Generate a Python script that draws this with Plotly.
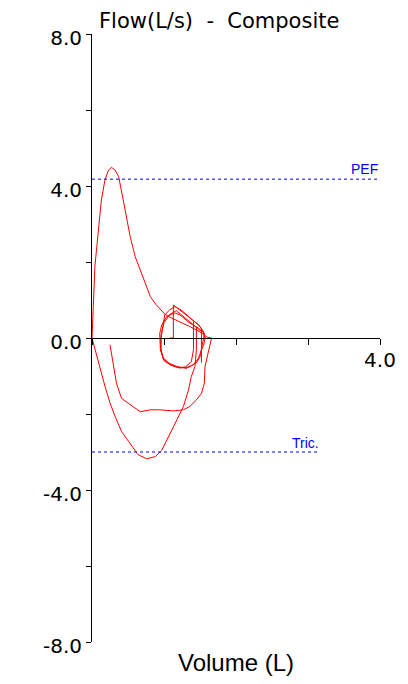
import plotly.graph_objects as go

# ---- data (Volume L, Flow L/s) ----
exp_vol = [0, 0.005, 0.018, 0.04, 0.09, 0.13, 0.18, 0.23, 0.27, 0.32, 0.37, 0.41, 0.46, 0.53, 0.60,
           0.67, 0.74, 0.81, 0.88, 0.94, 1.01, 1.08, 1.15, 1.22, 1.29, 1.36, 1.43, 1.50, 1.56, 1.60, 1.66]
exp_flow = [0, 0.5, 0.83, 1.88, 2.84, 3.63, 4.16, 4.42, 4.49, 4.42, 4.25, 3.81, 3.37, 2.67, 2.14,
            1.79, 1.44, 1.09, 0.90, 0.78, 0.63, 0.55, 0.48, 0.42, 0.36, 0.30, 0.24, 0.16, 0.08, 0.02, 0.0]

insp1_vol = [1.66, 1.62, 1.59, 1.57, 1.56, 1.52, 1.45, 1.36, 1.27, 1.13, 0.94, 0.81, 0.67, 0.53, 0.41,
             0.34, 0.30, 0.27, 0.25]
insp1_flow = [0, -0.31, -0.6, -0.75, -1.19, -1.46, -1.63, -1.80, -1.89, -1.92, -1.89, -1.89, -1.94, -1.76,
              -1.59, -1.19, -0.75, -0.4, -0.18]

insp2_vol = [1.45, 1.45, 1.43, 1.38, 1.34, 1.27, 1.18, 1.06, 0.97, 0.88, 0.76, 0.64, 0.53, 0.41, 0.32,
             0.25, 0.18, 0.11, 0.06, 0.02, 0]
insp2_flow = [0.3, -0.31, -0.75, -1.01, -1.37, -1.80, -2.15, -2.59, -2.95, -3.12, -3.18, -3.07, -2.77,
              -2.46, -2.06, -1.71, -1.27, -0.75, -0.39, -0.13, 0]

tid1_vol = [1.08, 1.13, 1.13, 1.22, 1.36, 1.48, 1.55, 1.57, 1.55, 1.52, 1.48, 1.41, 1.31, 1.18, 1.08,
            0.99, 0.95, 0.94, 0.97, 1.04, 1.15, 1.22, 1.36, 1.48, 1.55, 1.57]
tid1_flow = [0, 0, 0.87, 0.74, 0.52, 0.35, 0.17, 0.0, -0.2, -0.31, -0.53, -0.70, -0.80, -0.75, -0.67,
             -0.55, -0.31, 0.12, 0.35, 0.57, 0.66, 0.61, 0.39, 0.26, 0.13, 0]

tid2_vol = [1.01, 1.08, 1.15, 1.25, 1.38, 1.50, 1.56, 1.53, 1.50, 1.45, 1.35, 1.22, 1.10, 1.00, 0.96,
            0.96, 0.98, 1.01]
tid2_flow = [0.61, 0.74, 0.83, 0.72, 0.50, 0.30, 0.10, -0.2, -0.5, -0.65, -0.76, -0.79, -0.72, -0.60,
             -0.35, 0.0, 0.30, 0.61]

tid3_vol = [1.41, 1.41, 1.38, 1.30, 1.20, 1.08, 0.99, 0.95, 0.96, 1.00, 1.08, 1.17, 1.28, 1.40, 1.50,
            1.52, 1.52]
tid3_flow = [0.43, -0.3, -0.62, -0.76, -0.78, -0.70, -0.52, -0.25, 0.10, 0.40, 0.62, 0.72, 0.55, 0.37,
             0.20, 0.2, -0.65]

pef_value = 4.18
pef_end = 4.0
tric_value = -3.0
tric_end = 3.15

y_tickvals = [-8, -6, -4, -2, 0, 2, 4, 6, 8]
y_ticktext = ["-8.0", "", "-4.0", "", "0.0", "", "4.0", "", "8.0"]
x_tickvals = [0, 1, 2, 3, 4]
x_ticktext = ["", "", "", "", "4.0"]

RED = "#ff0000"
BLUE = "#0000ff"
FONT = "Liberation Sans, Arial, sans-serif"
WIDE = "DejaVu Sans, sans-serif"

fig = go.Figure()
for xs, ys in [(exp_vol, exp_flow), (insp1_vol, insp1_flow), (insp2_vol, insp2_flow),
               (tid1_vol, tid1_flow), (tid2_vol, tid2_flow), (tid3_vol, tid3_flow)]:
    fig.add_trace(go.Scatter(x=xs, y=ys, mode="lines", line=dict(color=RED, width=1),
                             hoverinfo="skip", showlegend=False, cliponaxis=False))

fig.add_trace(go.Scatter(x=[0, pef_end], y=[pef_value, pef_value], mode="lines",
                         line=dict(color=BLUE, width=1, dash="3px,3px"), showlegend=False))
fig.add_trace(go.Scatter(x=[0, tric_end], y=[tric_value, tric_value], mode="lines",
                         line=dict(color=BLUE, width=1, dash="3px,3px"), showlegend=False))

fig.add_annotation(x=pef_end, y=pef_value, xref="x", yref="y", text="PEF", showarrow=False,
                   xanchor="right", yanchor="bottom", yshift=0, xshift=0,
                   font=dict(family=FONT, size=14, color=BLUE))
fig.add_annotation(x=tric_end, y=tric_value, xref="x", yref="y", text="Tric.", showarrow=False,
                   xanchor="right", yanchor="bottom", xshift=2, yshift=-1,
                   font=dict(family=FONT, size=14, color=BLUE))

fig.add_annotation(x=0.017, y=1.022, xref="paper", yref="paper",
                   text="Flow(L/s)\u00a0\u00a0-\u00a0\u00a0Composite", showarrow=False,
                   xanchor="left", yanchor="middle", font=dict(family=WIDE, size=21, color="black"))
fig.add_annotation(x=0.5, y=-0.033, xref="paper", yref="paper", text="Volume (L)",
                   showarrow=False, xanchor="center", yanchor="middle",
                   font=dict(family=FONT, size=24, color="black"))

# page body has an 8px margin: size and margins are set so the plot area lands
# at x 92..380, y 34..642 in the 408x684 window
fig.update_layout(
    width=400, height=676, autosize=False,
    margin=dict(l=84, r=28, t=26, b=42, autoexpand=False),
    paper_bgcolor="white", plot_bgcolor="white",
    showlegend=False,
    xaxis=dict(range=[0, 4], showgrid=False, zeroline=False, showline=True, linecolor="black",
               linewidth=1, anchor="free", position=0.5, ticks="outside", ticklen=6,
               tickcolor="black", tickvals=x_tickvals, ticktext=x_ticktext, automargin=False,
               ticklabelstandoff=-2,
               tickfont=dict(family=WIDE, size=20, color="black")),
    yaxis=dict(range=[-8, 8], showgrid=False, zeroline=False, showline=True, linecolor="black",
               linewidth=1, ticks="outside", ticklen=5, tickcolor="black", automargin=False,
               tickvals=y_tickvals, ticktext=y_ticktext, ticklabelshift=4,
               tickfont=dict(family=WIDE, size=20, color="black")),
)

fig.write_html("out.html")
